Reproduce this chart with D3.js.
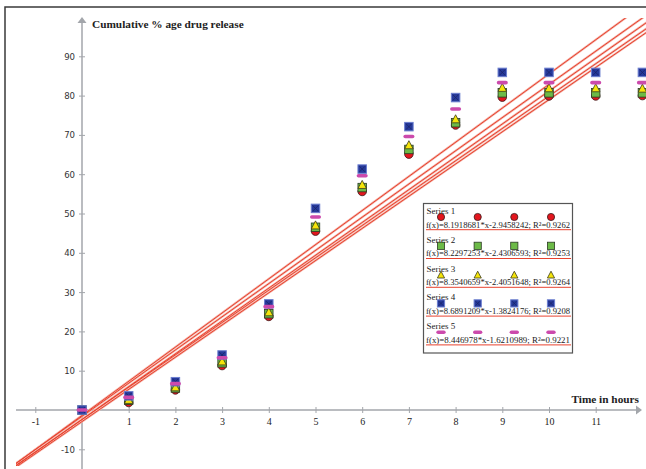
<!DOCTYPE html>
<html>
<head>
<meta charset="utf-8">
<script src="https://cdn.jsdelivr.net/npm/d3@7"></script>
<style>
  html, body { margin: 0; padding: 0; background: #fff; }
  svg { display: block; }
</style>
</head>
<body>
<div id="chart"></div>
<script>
// hours
const hours = [0, 1, 2, 3, 4, 5, 6, 7, 8, 9, 10, 11, 12];

// cumulative % drug release
const series1 = [0, 1.9, 5.1, 11.3, 23.8, 45.5, 55.6, 65.1, 72.5, 79.6, 79.9, 79.9, 80.0];
const series2 = [0, 2.5, 5.6, 12.0, 24.5, 46.5, 56.6, 66.3, 73.1, 80.7, 80.7, 80.7, 80.7];
const series3 = [0, 2.7, 5.9, 12.5, 25.0, 47.1, 57.4, 67.5, 74.1, 82.1, 82.0, 82.0, 81.9];
const series4 = [0, 3.6, 7.2, 14.0, 27.0, 51.3, 61.3, 72.1, 79.5, 85.9, 85.9, 85.9, 85.9];
const series5 = [0, 3.2, 6.7, 13.3, 26.3, 49.1, 59.6, 69.6, 76.6, 83.3, 83.3, 83.3, 83.3];

const seriesNames = ['Series 1', 'Series 2', 'Series 3', 'Series 4', 'Series 5'];

// linear fits shown in the legend
const slopes = [8.1918681, 8.2297253, 8.3540659, 8.6891209, 8.446978];
const intercepts = [-2.9458242, -2.4306593, -2.4051648, -1.3824176, -1.6210989];
const rSquared = ['0.9262', '0.9253', '0.9264', '0.9208', '0.9221'];

const xTicks = [-1, 1, 2, 3, 4, 5, 6, 7, 8, 9, 10, 11];
const yTicks = [-10, 10, 20, 30, 40, 50, 60, 70, 80, 90];

const allSeries = [series1, series2, series3, series4, series5];
const markers = ['circle', 'square', 'triangle', 'bluesquare', 'dash'];

const width = 646, height = 469;

const svg = d3.select('#chart').append('svg')
    .attr('width', width)
    .attr('height', height);

const x = d3.scaleLinear().domain([0, 12]).range([82, 642.4]);
const y = d3.scaleLinear().domain([0, 90]).range([410, 56.3]);

// frame
svg.append('path')
    .attr('d', `M5,${height} V7 H${width}`)
    .attr('fill', 'none')
    .attr('stroke', '#3a3a3a')
    .attr('stroke-width', 1.5);

const axisColor = '#a3a6ab';

// x axis
const xAxis = svg.append('g')
    .attr('transform', `translate(0,${y(0)})`)
    .call(d3.axisBottom(x).tickValues(xTicks).tickFormat(d => String(d)).tickSize(3).tickPadding(5));
xAxis.select('.domain').remove();
xAxis.selectAll('.tick line').attr('y1', -3).attr('stroke', axisColor);
xAxis.selectAll('.tick text')
    .attr('font-family', '"Liberation Serif", serif')
    .attr('font-size', 10)
    .attr('fill', '#222');
svg.append('line')
    .attr('x1', 16).attr('x2', 638)
    .attr('y1', y(0)).attr('y2', y(0))
    .attr('stroke', axisColor).attr('stroke-width', 1.5);
svg.append('path')
    .attr('d', `M642,${y(0)} l-6,-4.5 v9 z`)
    .attr('fill', axisColor);

// y axis
const yAxis = svg.append('g')
    .attr('transform', `translate(${x(0)},0)`)
    .call(d3.axisLeft(y).tickValues(yTicks).tickFormat(d => String(d)).tickSize(3).tickPadding(4));
yAxis.select('.domain').remove();
yAxis.selectAll('.tick line').attr('x1', 3).attr('stroke', axisColor);
yAxis.selectAll('.tick text')
    .attr('font-family', '"DejaVu Sans Condensed", "DejaVu Sans", sans-serif')
    .attr('font-size', 9.5)
    .attr('fill', '#333');
svg.append('line')
    .attr('x1', x(0)).attr('x2', x(0))
    .attr('y1', 22).attr('y2', height)
    .attr('stroke', axisColor).attr('stroke-width', 1.5);
svg.append('path')
    .attr('d', `M${x(0)},17 l-4.5,6 h9 z`)
    .attr('fill', axisColor);

// axis titles
svg.append('text')
    .attr('x', 92).attr('y', 28)
    .attr('font-family', '"Liberation Serif", serif')
    .attr('font-weight', 'bold')
    .attr('font-size', 11.3)
    .attr('fill', '#222')
    .text('Cumulative % age drug release');

svg.append('text')
    .attr('x', 639).attr('y', 403)
    .attr('text-anchor', 'end')
    .attr('font-family', '"Liberation Serif", serif')
    .attr('font-weight', 'bold')
    .attr('font-size', 11.3)
    .attr('fill', '#222')
    .text('Time in hours');

// fit lines
svg.append('clipPath').attr('id', 'plot-clip')
    .append('rect').attr('x', 16).attr('y', 18).attr('width', 630).attr('height', 448);

const fitColor = '#e8432f';
const line = d3.line().x(d => x(d[0])).y(d => y(d[1]));
const fitData = slopes.map((m, i) => [[-3, m * -3 + intercepts[i]], [14, m * 14 + intercepts[i]]]);
const fits = svg.append('g').attr('clip-path', 'url(#plot-clip)');
fits.selectAll('path.halo')
    .data(fitData)
    .enter().append('path')
    .attr('class', 'halo')
    .attr('d', line)
    .attr('fill', 'none')
    .attr('stroke', '#f3b0a6')
    .attr('stroke-width', 2.2);
fits.selectAll('path.fit')
    .data(fitData)
    .enter().append('path')
    .attr('class', 'fit')
    .attr('d', line)
    .attr('fill', 'none')
    .attr('stroke', fitColor)
    .attr('stroke-width', 1);

function drawMarker(g, type, cx, cy, s) {
    if (type === 'circle') {
        g.append('circle').attr('cx', cx).attr('cy', cy).attr('r', s / 2)
            .attr('fill', '#e3161e').attr('stroke', '#3a1a1a').attr('stroke-width', 0.8);
    } else if (type === 'square') {
        g.append('rect').attr('x', cx - s / 2).attr('y', cy - s / 2)
            .attr('width', s).attr('height', s)
            .attr('fill', '#6cba47').attr('stroke', '#2b3a22').attr('stroke-width', 0.8);
    } else if (type === 'triangle') {
        const h = s * 0.95;
        g.append('path')
            .attr('d', `M${cx},${cy - h / 2} L${cx + s / 2},${cy + h / 2} L${cx - s / 2},${cy + h / 2} Z`)
            .attr('fill', '#f4e40a').attr('stroke', '#3a3a1a').attr('stroke-width', 0.8);
    } else if (type === 'bluesquare') {
        g.append('rect').attr('x', cx - s / 2).attr('y', cy - s / 2)
            .attr('width', s).attr('height', s)
            .attr('fill', '#26399a').attr('stroke', '#6b7ecf').attr('stroke-width', 1);
        g.append('path')
            .attr('d', `M${cx - s / 2 + 1.5},${cy - s / 2 + 1.5} L${cx + s / 2 - 1.5},${cy + s / 2 - 1.5} M${cx + s / 2 - 1.5},${cy - s / 2 + 1.5} L${cx - s / 2 + 1.5},${cy + s / 2 - 1.5}`)
            .attr('stroke', '#1a2468').attr('stroke-width', 0.8);
    } else {
        g.append('rect').attr('x', cx - s * 0.65).attr('y', cy - 1.8)
            .attr('width', s * 1.3).attr('height', 3.6).attr('rx', 1.8)
            .attr('fill', '#cc4aac');
    }
}

// data points
const pts = svg.append('g');
allSeries.forEach((vals, i) => {
    const g = pts.append('g');
    vals.forEach((v, j) => drawMarker(g, markers[i], x(hours[j]), y(v), 8.5));
});

// legend
const legend = svg.append('g');
legend.append('rect')
    .attr('x', 423.5).attr('y', 203.5)
    .attr('width', 149).attr('height', 149.5)
    .attr('fill', '#fff')
    .attr('stroke', '#555').attr('stroke-width', 1.2);

seriesNames.forEach((name, i) => {
    const top = 203 + i * 28.8;
    legend.append('text')
        .attr('x', 426.5).attr('y', top + 11)
        .attr('font-family', '"Liberation Serif", serif')
        .attr('font-size', 9)
        .attr('fill', '#222')
        .text(name);
    [441, 477.7, 514.3, 551].forEach(mx => drawMarker(legend, markers[i], mx, top + 14, 7.2));
    legend.append('text')
        .attr('x', 426).attr('y', top + 24.5)
        .attr('font-family', '"Liberation Serif", serif')
        .attr('font-size', 9)
        .attr('textLength', 144)
        .attr('lengthAdjust', 'spacingAndGlyphs')
        .attr('fill', '#222')
        .text(`f(x)=${slopes[i]}*x${intercepts[i]}; R²=${rSquared[i]}`);
    legend.append('line')
        .attr('x1', 426).attr('x2', 571)
        .attr('y1', top + 26.7).attr('y2', top + 26.7)
        .attr('stroke', fitColor).attr('stroke-width', 1);
});
</script>
</body>
</html>
